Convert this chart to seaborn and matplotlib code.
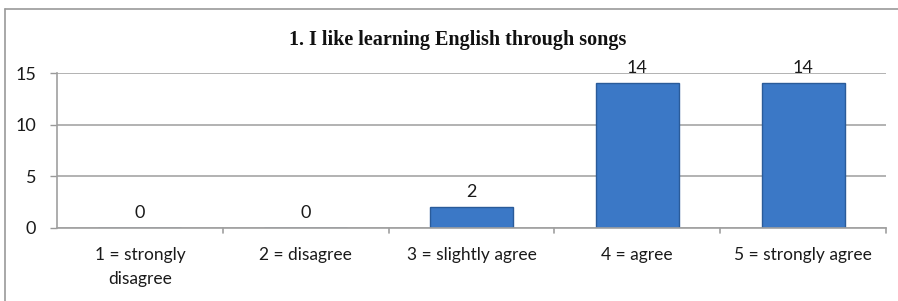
import matplotlib
matplotlib.use("Agg")
import matplotlib.pyplot as plt
import seaborn as sns
import pandas as pd
from matplotlib.lines import Line2D

categories = ["1 = strongly\ndisagree", "2 = disagree", "3 = slightly agree", "4 = agree", "5 = strongly agree"]
values = [0, 0, 2, 14, 14]
yticks = [0, 5, 10, 15]
title = "1. I like learning English through songs"

sns.set_theme(style="white")
plt.rcParams['font.family'] = ['Lato', 'DejaVu Sans']

W, H = 898, 301
fig = plt.figure(figsize=(W / 100, H / 100), dpi=100)
ax = fig.add_axes([57 / W, 1 - 228 / H, (886 - 57) / W, (228 - 73) / H])

df = pd.DataFrame({"cat": categories, "val": values})
sns.barplot(data=df, x="cat", y="val", ax=ax, color="#3b78c6", width=0.5,
            edgecolor="#2a5b99", linewidth=1.0, saturation=1)

ax.set_ylim(0, 15)
ax.set_xlim(-0.5, len(categories) - 0.5)
ax.set_yticks(yticks)
ax.set_yticklabels([str(t) for t in yticks], fontsize=13, color="#1a1a1a")
ax.set_xticks(range(len(categories)))
ax.set_xticklabels(categories, fontsize=12.5, color="#1a1a1a", linespacing=1.55, va="top")
ax.set_xlabel("")
ax.set_ylabel("")
ax.tick_params(axis="x", length=0, pad=14)
ax.tick_params(axis="y", length=5, width=1, color="#999999", direction="out", pad=10, left=True)
ax.yaxis.grid(True, color="#a6a6a6", linewidth=1.2)
ax.set_axisbelow(True)
for s in ["top", "right"]:
    ax.spines[s].set_visible(False)
for s in ["left", "bottom"]:
    ax.spines[s].set_color("#a0a0a0")
    ax.spines[s].set_linewidth(1.2)

# x boundary ticks
for b in [i + 0.5 for i in range(len(categories))]:
    ax.plot([b, b], [0, -0.45], color="#a0a0a0", lw=1.2, clip_on=False,
            transform=ax.transData)

for i, v in enumerate(values):
    ax.text(i, v + 0.7, str(v), ha="center", va="bottom", fontsize=13, color="#1a1a1a")

fig.text(458 / W, 1 - 40 / H, title, ha="center", va="center",
         fontsize=14.5, fontweight="bold", family=["Liberation Serif"], color="#111111")

# outer frame
fig.add_artist(Line2D([5 / W, 1], [1 - 9 / H, 1 - 9 / H], transform=fig.transFigure,
                      color="#9a9a9a", lw=1.2))
fig.add_artist(Line2D([5 / W, 5 / W], [0, 1 - 9 / H], transform=fig.transFigure,
                      color="#9a9a9a", lw=1.2))

fig.savefig("out.png", dpi=100)
